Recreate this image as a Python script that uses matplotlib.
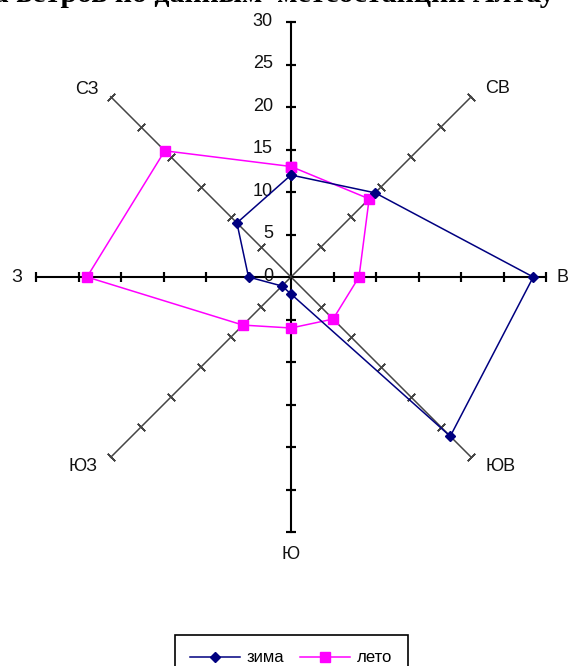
import numpy as np
import matplotlib
matplotlib.use('Agg')
import matplotlib.pyplot as plt

# wind rose data (% of observations per direction)
directions = ['С', 'СВ', 'В', 'ЮВ', 'Ю', 'ЮЗ', 'З', 'СЗ']
zima = [12, 14, 28.5, 26.5, 2, 1.5, 5, 9]
leto = [13, 13, 8, 7, 6, 8, 24, 21]
r_ticks = [0, 5, 10, 15, 20, 25, 30]

# label offsets (points) from the end of every spoke; С is hidden under the title
label_offsets = {
    'СВ': (19, 6), 'В': (12, 0), 'ЮВ': (21, -6.5),
    'Ю': (0, -16.5), 'ЮЗ': (-20, -6.5), 'З': (-14, 0),
    'СЗ': (-17, 5),
}

plt.rcParams['font.family'] = ['Liberation Sans', 'DejaVu Sans']

W, H = 571, 666
fig = plt.figure(figsize=(W / 100, H / 100), dpi=100)
cx, cy, R = 291, 277, 255
ax = fig.add_axes([(cx - R) / W, (H - cy - R) / H, 2 * R / W, 2 * R / H],
                  projection='polar')
ax.set_theta_zero_location('N')
ax.set_theta_direction(-1)
ax.set_ylim(0, 30)
ax.grid(False)
ax.spines['polar'].set_visible(False)
ax.set_xticks([])
ax.set_yticks([])
ax.patch.set_alpha(0)

angles_deg = np.arange(len(directions)) * 45
angles = np.deg2rad(angles_deg)

# spokes with tick marks
for name, a, deg in zip(directions, angles, angles_deg):
    main = deg % 90 == 0
    col = 'black' if main else '#454545'
    lw = 1.5 if main else 1.1
    ax.plot([a, a], [0, 30], color=col, lw=lw, clip_on=False, zorder=1)
    ax.plot([a] * len(r_ticks[1:]), r_ticks[1:], ls='none', color=col,
            marker=(2, 2, 90 - deg), markersize=7.5, markeredgewidth=lw,
            clip_on=False, zorder=1)
    if name in label_offsets:
        dx, dy = label_offsets[name]
        ax.annotate(name, xy=(a, 30), xytext=(dx, dy), textcoords='offset points',
                    ha='center', va='center', fontsize=13, color='#111111',
                    annotation_clip=False)

# value labels along the north spoke
for v in r_ticks:
    ax.annotate(str(v), xy=(0, v), xytext=(-13, 0.5), textcoords='offset points',
                ha='right', va='center', fontsize=13, color='#111111',
                annotation_clip=False)

closed = np.append(angles, angles[0])
ax.plot(closed, zima + zima[:1], color='#000080', lw=1.1, marker='D',
        markersize=5.5, label='зима', clip_on=False, zorder=3)
ax.plot(closed, leto + leto[:1], color='#FF00FF', lw=1.1, marker='s',
        markersize=7, label='лето', clip_on=False, zorder=2)

# title is cut by the top edge of the picture
fig.text(555 / W, 1 - 1.8 / H, 'Роза ветров по данным  метеостанции Алтау',
         ha='right', va='baseline', fontsize=21.5, fontweight='bold',
         family=['Liberation Serif', 'DejaVu Serif'])

leg = fig.legend(loc='upper center', bbox_to_anchor=(cx / W, 1 - 627 / H),
                 ncol=2, numpoints=1, fancybox=False, edgecolor='black',
                 framealpha=1, fontsize=12, handlelength=3.0,
                 handletextpad=0.4, columnspacing=1.0, borderpad=0.9)
leg.get_frame().set_linewidth(1.2)

fig.savefig('out.png', dpi=100, facecolor='white')
